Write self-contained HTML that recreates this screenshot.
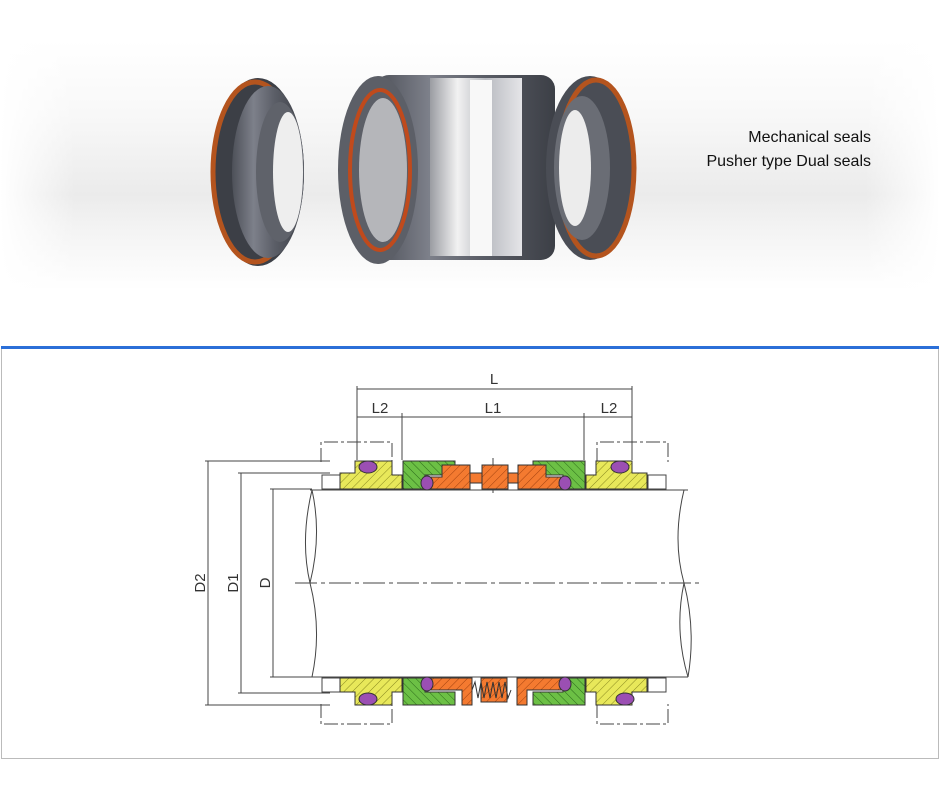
<!DOCTYPE html>
<html><head><meta charset="utf-8"><style>
html,body{margin:0;padding:0;background:#fff;}
svg{display:block;}
</style></head><body>
<svg width="940" height="789" viewBox="0 0 940 789" xmlns="http://www.w3.org/2000/svg">
<defs>
<linearGradient id="bg" x1="0" y1="0" x2="0" y2="1">
<stop offset="0" stop-color="#fff"/><stop offset="0.3" stop-color="#f8f8f8"/><stop offset="0.62" stop-color="#ebebeb"/><stop offset="0.75" stop-color="#f3f3f3"/><stop offset="1" stop-color="#fff"/></linearGradient>
<linearGradient id="fadeH" x1="0" y1="0" x2="1" y2="0">
<stop offset="0" stop-color="#fff" stop-opacity="1"/><stop offset="0.08" stop-color="#fff" stop-opacity="0"/><stop offset="0.92" stop-color="#fff" stop-opacity="0"/><stop offset="1" stop-color="#fff" stop-opacity="1"/></linearGradient>
<linearGradient id="metal" x1="0" y1="0" x2="1" y2="0">
<stop offset="0" stop-color="#4d5058"/><stop offset="0.3" stop-color="#7d808a"/><stop offset="0.6" stop-color="#5a5d66"/><stop offset="1" stop-color="#3c3f46"/></linearGradient>
<linearGradient id="steel" x1="0" y1="0" x2="1" y2="0">
<stop offset="0" stop-color="#9a9ca2"/><stop offset="0.3" stop-color="#f2f2f2"/><stop offset="0.6" stop-color="#b8bac0"/><stop offset="1" stop-color="#e5e5e8"/></linearGradient>
<pattern id="hy" width="6" height="6" patternUnits="userSpaceOnUse" patternTransform="rotate(45)"><rect width="6" height="6" fill="#e8e85a"/><line x1="0" y1="0" x2="0" y2="6" stroke="#8a8a20" stroke-width="1"/></pattern>
<pattern id="hg" width="6" height="6" patternUnits="userSpaceOnUse" patternTransform="rotate(-45)"><rect width="6" height="6" fill="#6cc045"/><line x1="0" y1="0" x2="0" y2="6" stroke="#2c6a1a" stroke-width="1"/></pattern>
<pattern id="ho" width="6" height="6" patternUnits="userSpaceOnUse" patternTransform="rotate(45)"><rect width="6" height="6" fill="#f47a30"/><line x1="0" y1="0" x2="0" y2="6" stroke="#a0400e" stroke-width="1"/></pattern>
</defs>
<rect x="0" y="40" width="940" height="250" fill="url(#bg)"/>
<rect x="0" y="40" width="940" height="250" fill="url(#fadeH)"/>
<ellipse cx="258" cy="172" rx="46" ry="94" fill="#3c3f46"/>
<ellipse cx="255" cy="172" rx="42" ry="90" fill="none" stroke="#b4541e" stroke-width="5"/>
<ellipse cx="268" cy="172" rx="36" ry="86" fill="url(#metal)"/>
<ellipse cx="280" cy="172" rx="24" ry="70" fill="#5f626a"/>
<ellipse cx="288" cy="172" rx="15" ry="60" fill="#eeeeee"/>
<rect x="375" y="75" width="180" height="185" rx="14" fill="url(#metal)"/>
<rect x="430" y="78" width="92" height="178" fill="url(#steel)"/>
<rect x="470" y="80" width="22" height="176" fill="#f8f8f8"/>
<ellipse cx="378" cy="170" rx="40" ry="94" fill="#5c5f67"/>
<ellipse cx="380" cy="170" rx="30" ry="80" fill="none" stroke="#c04a1c" stroke-width="4"/>
<ellipse cx="383" cy="170" rx="24" ry="72" fill="#b5b6ba"/>
<ellipse cx="590" cy="168" rx="44" ry="92" fill="#4a4d55"/>
<ellipse cx="596" cy="168" rx="38" ry="88" fill="none" stroke="#b4541e" stroke-width="5"/>
<ellipse cx="582" cy="168" rx="28" ry="72" fill="#6a6d75"/>
<ellipse cx="575" cy="168" rx="16" ry="58" fill="#ececec"/>
<text x="871" y="142" text-anchor="end" font-family="Liberation Sans, sans-serif" font-size="16" fill="#111">Mechanical seals</text>
<text x="871" y="166" text-anchor="end" font-family="Liberation Sans, sans-serif" font-size="16" fill="#111">Pusher type Dual seals</text>
<rect x="1.5" y="348.5" width="937" height="410" fill="none" stroke="#bbb" stroke-width="1"/>
<rect x="1" y="346" width="938" height="3" fill="#2b6fd8"/>
<g stroke="#444" stroke-width="1" fill="none">
<line x1="357" y1="389" x2="632" y2="389"/>
<line x1="357" y1="386" x2="357" y2="460"/><line x1="632" y1="386" x2="632" y2="460"/>
<line x1="357" y1="417" x2="632" y2="417"/>
<line x1="402" y1="413" x2="402" y2="460"/><line x1="584" y1="413" x2="584" y2="460"/>
<path d="M321 462 V442 H392 V462" stroke-dasharray="14,3,3,3"/>
<path d="M597 462 V442 H668 V462" stroke-dasharray="14,3,3,3"/>
<path d="M321 704 V724 H392 V704" stroke-dasharray="14,3,3,3"/>
<path d="M597 704 V724 H668 V704" stroke-dasharray="14,3,3,3"/>
<line x1="205" y1="461" x2="330" y2="461"/><line x1="205" y1="705" x2="330" y2="705"/><line x1="208" y1="461" x2="208" y2="705"/>
<line x1="238" y1="473" x2="330" y2="473"/><line x1="238" y1="693" x2="330" y2="693"/><line x1="241" y1="473" x2="241" y2="693"/>
<line x1="270" y1="489" x2="312" y2="489"/><line x1="270" y1="677" x2="312" y2="677"/><line x1="273" y1="489" x2="273" y2="677"/>
<line x1="310" y1="490" x2="688" y2="490"/><line x1="310" y1="677" x2="688" y2="677"/>
<path d="M312 490 Q300 540 310 583 Q322 630 312 677"/>
<path d="M312 490 Q322 535 310 583"/>
<path d="M684 490 Q672 540 684 583 Q696 630 688 677"/>
<path d="M684 583 Q674 630 688 677"/>
<line x1="295" y1="583" x2="700" y2="583" stroke-dasharray="22,4,4,4"/>
<line x1="493" y1="458" x2="493" y2="494" stroke-dasharray="10,3,3,3"/>
<rect x="322" y="475" width="18" height="14"/><rect x="648" y="475" width="18" height="14"/>
<rect x="322" y="678" width="18" height="14"/><rect x="648" y="678" width="18" height="14"/>
</g>
<g font-family="Liberation Sans, sans-serif" font-size="15" fill="#333" text-anchor="middle">
<text x="494" y="384">L</text><text x="380" y="413">L2</text><text x="493" y="413">L1</text><text x="609" y="413">L2</text>
<text transform="translate(205,583) rotate(-90)">D2</text>
<text transform="translate(238,583) rotate(-90)">D1</text>
<text transform="translate(270,583) rotate(-90)">D</text>
</g>
<g stroke="#333" stroke-width="1">
<path d="M340 489 V473 H355 V461 H392 V475 H402 V489 Z" fill="url(#hy)"/>
<path d="M647 489 V473 H632 V461 H596 V475 H586 V489 Z" fill="url(#hy)"/>
<path d="M403 489 V461 H455 V475 H425 V489 Z" fill="url(#hg)"/>
<path d="M585 489 V461 H533 V475 H563 V489 Z" fill="url(#hg)"/>
<path d="M425 489 V477 H442 V465 H470 V489 Z" fill="url(#ho)"/>
<path d="M563 489 V477 H546 V465 H518 V489 Z" fill="url(#ho)"/>
<rect x="482" y="465" width="26" height="24" fill="url(#ho)"/>
<rect x="470" y="473" width="12" height="10" fill="#f47a30"/><rect x="508" y="473" width="10" height="10" fill="#f47a30"/>
<ellipse cx="368" cy="467" rx="9" ry="6" fill="#9b4fb3"/>
<ellipse cx="620" cy="467" rx="9" ry="6" fill="#9b4fb3"/>
<ellipse cx="427" cy="483" rx="6" ry="7" fill="#9b4fb3"/>
<ellipse cx="565" cy="483" rx="6" ry="7" fill="#9b4fb3"/>
<path d="M340 678 V692 H355 V705 H392 V692 H402 V678 Z" fill="url(#hy)"/>
<path d="M647 678 V692 H632 V705 H596 V692 H586 V678 Z" fill="url(#hy)"/>
<path d="M403 678 V705 H455 V692 H425 V678 Z" fill="url(#hg)"/>
<path d="M585 678 V705 H533 V692 H563 V678 Z" fill="url(#hg)"/>
<path d="M425 678 H472 V705 H462 V690 H425 Z" fill="url(#ho)"/>
<path d="M563 678 H517 V705 H527 V690 H563 Z" fill="url(#ho)"/>
<rect x="481" y="678" width="26" height="24" fill="url(#ho)"/>
<path d="M472 690 l3 -8 l3 16 l3 -16 l3 16 l3 -16 l3 16 l3 -16 l3 16 l3 -16 l3 16 l3 -16 l3 16 l3 -8" fill="none" stroke="#333"/>
<ellipse cx="368" cy="699" rx="9" ry="6" fill="#9b4fb3"/>
<ellipse cx="625" cy="699" rx="9" ry="6" fill="#9b4fb3"/>
<ellipse cx="427" cy="684" rx="6" ry="7" fill="#9b4fb3"/>
<ellipse cx="565" cy="684" rx="6" ry="7" fill="#9b4fb3"/>
</g>
</svg>
</body></html>
